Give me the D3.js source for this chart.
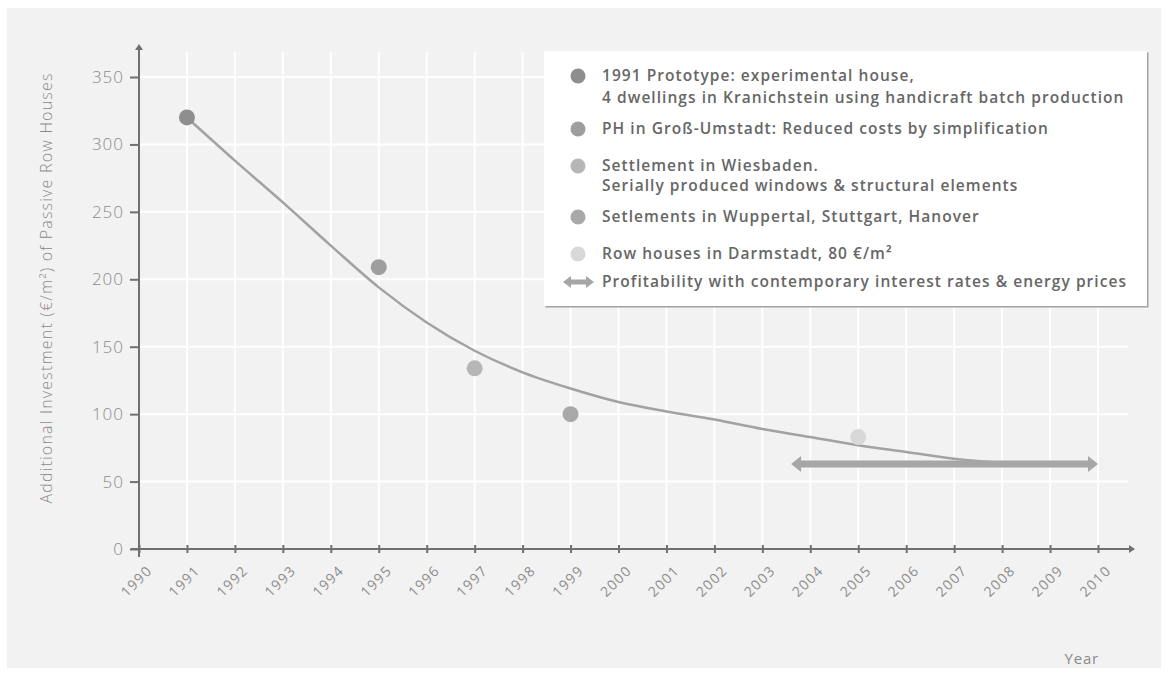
<!DOCTYPE html>
<html>
<head>
<meta charset="utf-8">
<script src="https://cdn.jsdelivr.net/npm/d3@7"></script>
<style>
  body { margin: 0; background: #fff; }
  svg { display: block; font-family: "Open Sans", sans-serif; }
</style>
</head>
<body>
<div id="container"></div>
<script>
/* DATA */
const years = d3.range(1990, 2011);
const yTicks = [0, 50, 100, 150, 200, 250, 300, 350];

// project points (year, €/m²)
const pointYears = [1991, 1995, 1997, 1999, 2005];
const pointValues = [320, 209, 134, 100, 83];
const pointColors = ["#8e8e8e", "#9e9e9e", "#b6b6b6", "#a8a8a8", "#d8d8d8"];

// trend curve
const curveYears = [1991, 1992, 1993, 1994, 1995, 1996, 1997, 1998, 1999, 2000, 2001, 2002, 2003, 2004, 2005, 2006, 2007, 2008];
const curveValues = [320, 288, 257, 225, 194, 168, 147, 131, 119, 109, 102, 96, 89, 83, 77, 72, 67, 64];

// profitability range
const profitYears = [2003.6, 2010];
const profitValue = 63;

const legendLabels = [
  ["1991 Prototype: experimental house,", "4 dwellings in Kranichstein using handicraft batch production"],
  ["PH in Groß-Umstadt: Reduced costs by simplification"],
  ["Settlement in Wiesbaden.", "Serially produced windows & structural elements"],
  ["Setlements in Wuppertal, Stuttgart, Hanover"],
  ["Row houses in Darmstadt, 80 €/m²"]
];
const arrowLabel = "Profitability with contemporary interest rates & energy prices";

/* CONSTANTS */
const width = 1168, height = 673;
const gridColor = "#ffffff", axisColor = "#707070", textColor = "#8a8a8a";

const svg = d3.select("#container").append("svg")
  .attr("width", width).attr("height", height);

// panel
svg.append("rect").attr("x", 7).attr("y", 8).attr("width", 1154).attr("height", 660)
  .attr("fill", "#f2f2f2");

/* SCALES */
const x = d3.scaleLinear().domain([1990, 2010]).range([139, 1098]);
const y = d3.scaleLinear().domain([0, 350]).range([549, 77]);

// grid
svg.append("g").selectAll("line").data(years.slice(1)).join("line")
  .attr("x1", d => x(d)).attr("x2", d => x(d))
  .attr("y1", 52).attr("y2", y(0))
  .attr("stroke", gridColor).attr("stroke-width", 2);
svg.append("g").selectAll("line").data(yTicks.slice(1)).join("line")
  .attr("x1", x(1990)).attr("x2", 1128)
  .attr("y1", d => y(d)).attr("y2", d => y(d))
  .attr("stroke", gridColor).attr("stroke-width", 2);

// y axis
const yAxis = svg.append("g").attr("transform", `translate(${x(1990)},0)`)
  .call(d3.axisLeft(y).tickValues(yTicks).tickSize(9).tickPadding(6));
yAxis.select(".domain").remove();
yAxis.selectAll("line").attr("stroke", axisColor).attr("stroke-width", 2);
yAxis.selectAll("text").attr("fill", textColor).attr("font-size", 17)
  .attr("font-family", "Open Sans").attr("font-weight", 300).attr("letter-spacing", 1);

// x axis
const xAxis = svg.append("g").attr("transform", `translate(0,${y(0)})`)
  .call(d3.axisBottom(x).tickValues(years).tickSize(4).tickPadding(0).tickFormat(d3.format("d")));
xAxis.select(".domain").remove();
xAxis.selectAll("line").attr("y1", -4).attr("stroke", axisColor).attr("stroke-width", 2);
xAxis.selectAll("text")
  .attr("fill", "#8c8c8c").attr("font-size", 14).attr("font-family", "Open Sans").attr("font-weight", 400)
  .attr("letter-spacing", 1.3)
  .attr("text-anchor", "end")
  .attr("transform", "translate(10,19) rotate(-45)")
  .attr("dy", "0.35em").attr("y", 0);

// axis lines with arrows
svg.append("line").attr("x1", x(1990)).attr("x2", x(1990))
  .attr("y1", y(0) + 8).attr("y2", 48)
  .attr("stroke", axisColor).attr("stroke-width", 2);
svg.append("path").attr("d", `M${x(1990) - 4},${50} L${x(1990)},${44} L${x(1990) + 4},${50} Z`)
  .attr("fill", axisColor);
svg.append("line").attr("x1", x(1990) - 8).attr("x2", 1131)
  .attr("y1", y(0)).attr("y2", y(0))
  .attr("stroke", axisColor).attr("stroke-width", 2);
svg.append("path").attr("d", `M1129,${y(0) - 4} L1135,${y(0)} L1129,${y(0) + 4} Z`)
  .attr("fill", axisColor);

// axis titles
svg.append("text")
  .attr("transform", `translate(52,${288}) rotate(-90)`)
  .attr("text-anchor", "middle")
  .attr("fill", textColor).attr("font-size", 16).attr("font-weight", 300).attr("letter-spacing", 1.2)
  .text("Additional Investment (€/m²) of Passive Row Houses");
svg.append("text").attr("x", 1099).attr("y", 664)
  .attr("text-anchor", "end").attr("fill", textColor).attr("font-size", 15).attr("font-weight", 400)
  .attr("letter-spacing", 0.8)
  .text("Year");

// trend curve
const line = d3.line().x(d => x(d[0])).y(d => y(d[1])).curve(d3.curveMonotoneX);
svg.append("path")
  .datum(d3.zip(curveYears, curveValues))
  .attr("d", line)
  .attr("fill", "none").attr("stroke", "#a2a2a2").attr("stroke-width", 2.5);

// double arrow builder
function dblArrow(x0, x1, cy, half, headHalf, headLen) {
  return `M${x0},${cy} L${x0 + headLen},${cy - headHalf} L${x0 + headLen},${cy - half}
    L${x1 - headLen},${cy - half} L${x1 - headLen},${cy - headHalf} L${x1},${cy}
    L${x1 - headLen},${cy + headHalf} L${x1 - headLen},${cy + half}
    L${x0 + headLen},${cy + half} L${x0 + headLen},${cy + headHalf} Z`;
}
svg.append("path")
  .attr("d", dblArrow(x(profitYears[0]), x(profitYears[1]), y(profitValue), 3.5, 8, 10))
  .attr("fill", "#a6a6a6");

// points
svg.append("g").selectAll("circle")
  .data(d3.zip(pointYears, pointValues, pointColors)).join("circle")
  .attr("cx", d => x(d[0])).attr("cy", d => y(d[1])).attr("r", 8)
  .attr("fill", d => d[2]);

/* LEGEND */
const defs = svg.append("defs");
const f = defs.append("filter").attr("id", "sh").attr("x", "-5%").attr("y", "-5%")
  .attr("width", "110%").attr("height", "110%");
f.append("feDropShadow").attr("dx", 1.5).attr("dy", 1.5).attr("stdDeviation", 0.6)
  .attr("flood-color", "#999").attr("flood-opacity", 0.9);

const lg = svg.append("g");
lg.append("rect").attr("x", 544).attr("y", 51).attr("width", 603).attr("height", 255)
  .attr("fill", "#fff").attr("filter", "url(#sh)");

const itemY = [76, 129, 166, 217, 254];
const lineGap = [22, 22, 20, 22, 22];
const legendFont = { size: 15.5, spacing: 1.05 };
legendLabels.forEach((lines, i) => {
  lg.append("circle").attr("cx", 578).attr("cy", itemY[i]).attr("r", 7.5)
    .attr("fill", pointColors[i]);
  lines.forEach((t, j) => {
    lg.append("text").attr("x", 602).attr("y", itemY[i] + j * lineGap[i])
      .attr("dy", "0.35em").attr("fill", "#666").attr("font-size", legendFont.size)
      .attr("letter-spacing", legendFont.spacing)
      .attr("font-weight", 600).text(t);
  });
});
lg.append("path").attr("d", dblArrow(563, 594, 282, 2.5, 6, 8)).attr("fill", "#a6a6a6");
lg.append("text").attr("x", 602).attr("y", 282).attr("dy", "0.35em")
  .attr("fill", "#666").attr("font-size", legendFont.size).attr("letter-spacing", legendFont.spacing)
  .attr("font-weight", 600).text(arrowLabel);
</script>
</body>
</html>
